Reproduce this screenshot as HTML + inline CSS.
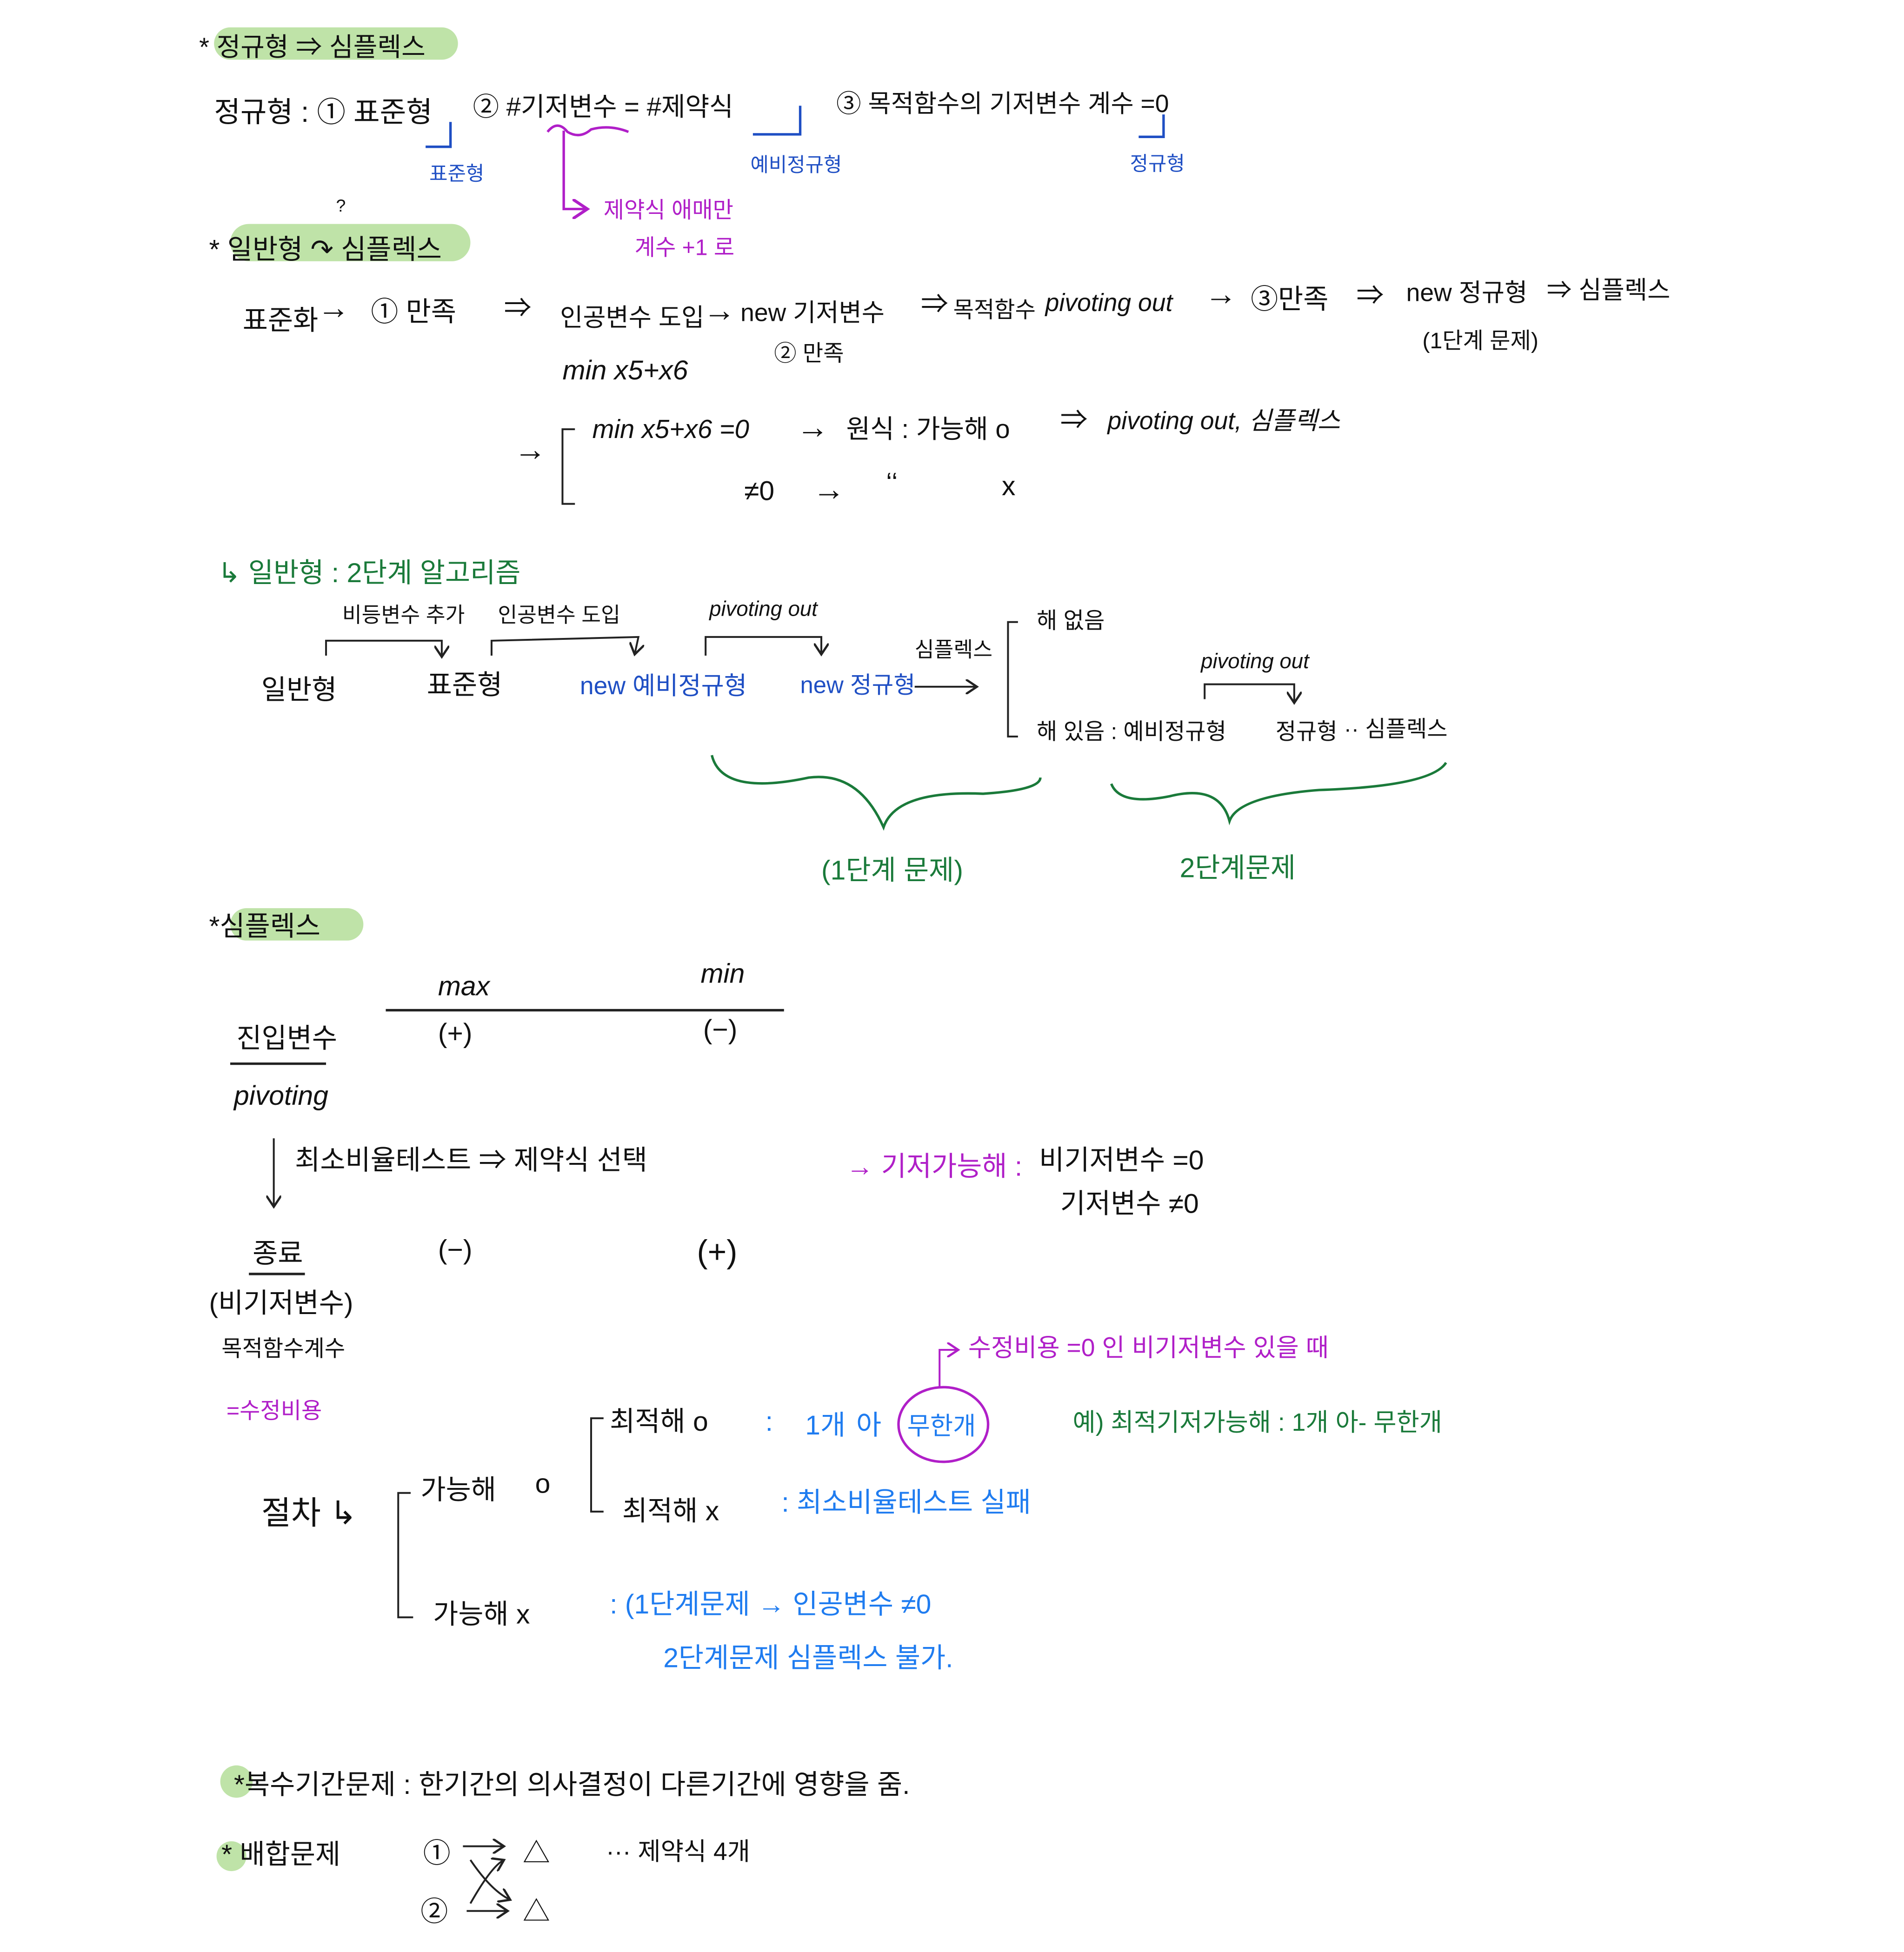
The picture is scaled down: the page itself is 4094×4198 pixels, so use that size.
<!DOCTYPE html>
<html><head><meta charset="utf-8"><style>
html,body{margin:0;padding:0;background:#fff;}
svg{display:block;}
text{font-family:"Liberation Sans","Noto Sans CJK KR",sans-serif;}
</style></head><body>
<svg width="4094" height="4198" viewBox="0 0 1530 1569" preserveAspectRatio="none" xmlns="http://www.w3.org/2000/svg">
<defs>
<marker id="ah" markerWidth="8" markerHeight="8" refX="6" refY="4" orient="auto"><path d="M0,0 L6,4 L0,8" fill="none" stroke="#222" stroke-width="1.2"/></marker>
<marker id="ap" markerWidth="8" markerHeight="8" refX="6" refY="4" orient="auto"><path d="M0,0 L6,4 L0,8" fill="none" stroke="#b01fc8" stroke-width="1.2"/></marker>
</defs>
<g font-size="22" fill="#111">
<!-- Title 1 -->
<rect x="172" y="22" width="196" height="26" rx="13" fill="#bfe3a8"/>
<text x="160" y="45" font-size="21">* 정규형 ⇒ 심플렉스</text>
<text x="172" y="98" font-size="23">정규형 : ① 표준형</text>
<text x="380" y="93" font-size="21">② #기저변수 = #제약식</text>
<text x="672" y="90" font-size="20">③ 목적함수의 기저변수 계수 =0</text>
<g stroke="#1f4fc4" stroke-width="2" fill="none">
<path d="M362,98 L362,118 L342,118"/>
<path d="M643,85 L643,108 L605,108"/>
<path d="M935,92 L935,110 L915,110"/>
</g>
<g fill="#1f4fc4" font-size="16">
<text x="345" y="145">표준형</text>
<text x="603" y="138">예비정규형</text>
<text x="908" y="137">정규형</text>
</g>
<g stroke="#b01fc8" stroke-width="2" fill="none">
<path d="M440,106 Q448,96 456,106 Q466,112 475,104 Q490,100 505,106"/>
<path d="M453,105 L453,168 L472,168" marker-end="url(#ap)"/>
</g>
<g fill="#b01fc8" font-size="18">
<text x="485" y="175">제약식 애매만</text>
<text x="510" y="205">계수 +1 로</text>
</g>
<text x="270" y="170" font-size="14">?</text>

<!-- Title 2 -->
<rect x="185" y="180" width="193" height="30" rx="15" fill="#bfe3a8"/>
<text x="168" y="208">* 일반형 ↷ 심플렉스</text>
<text x="195" y="265">표준화</text>
<text x="255" y="256" font-size="26">→</text>
<text x="298" y="258">① 만족</text>
<text x="405" y="255">⇒</text>
<text x="450" y="262" font-size="20">인공변수 도입</text>
<text x="565" y="258" font-size="26">→</text>
<text x="595" y="258" font-size="20">new 기저변수</text>
<text x="740" y="252">⇒</text>
<text x="766" y="255" font-size="18">목적함수</text>
<text x="840" y="250" font-size="20" font-style="italic">pivoting out</text>
<text x="968" y="245" font-size="26">→</text>
<text x="1005" y="248">③만족</text>
<text x="1090" y="245">⇒</text>
<text x="1130" y="242" font-size="20">new 정규형</text>
<text x="1243" y="240" font-size="20">⇒ 심플렉스</text>
<text x="1143" y="280" font-size="18">(1단계 문제)</text>
<text x="622" y="290" font-size="18">② 만족</text>
<text x="452" y="305" font-style="italic">min   x5+x6</text>
<text x="413" y="370" font-size="26">→</text>
<path d="M462,345 L452,345 L452,405 L462,405" stroke="#222" stroke-width="1.5" fill="none"/>
<text x="476" y="352" font-style="italic" font-size="21">min   x5+x6 =0</text>
<text x="640" y="352" font-size="26">→</text>
<text x="680" y="352" font-size="21">원식 : 가능해 o</text>
<text x="852" y="345">⇒</text>
<text x="890" y="345" font-size="20" font-style="italic">pivoting out, 심플렉스</text>
<text x="598" y="402">≠0</text>
<text x="653" y="402" font-size="26">→</text>
<text x="712" y="395">‘‘</text>
<text x="805" y="398">x</text>

<!-- two-phase -->
<g fill="#1a7a3a"><text x="175" y="468" font-size="22">↳ 일반형 : 2단계 알고리즘</text></g>
<g font-size="17">
<text x="275" y="500">비등변수 추가</text>
<text x="400" y="500">인공변수 도입</text>
<text x="570" y="495" font-style="italic">pivoting out</text>
</g>
<g stroke="#222" stroke-width="1.5" fill="none">
<path d="M262,527 L262,515 L355,515 L355,528" marker-end="url(#ah)"/>
<path d="M395,527 L395,515 L513,512 L510,526" marker-end="url(#ah)"/>
<path d="M567,527 L567,512 L660,512 L660,526" marker-end="url(#ah)"/>
<path d="M735,552 L785,552" marker-end="url(#ah)"/>
<path d="M818,500 L810,500 L810,592 L818,592"/>
<path d="M968,562 L968,550 L1040,550 L1040,565" marker-end="url(#ah)"/>
</g>
<text x="210" y="562">일반형</text>
<text x="343" y="558">표준형</text>
<text x="466" y="558" font-size="20" fill="#1f4fc4">new 예비정규형</text>
<text x="643" y="557" font-size="19" fill="#1f4fc4">new 정규형</text>
<text x="735" y="528" font-size="17">심플렉스</text>
<text x="833" y="505" font-size="18">해 없음</text>
<text x="833" y="594" font-size="18">해 있음 : 예비정규형</text>
<text x="965" y="537" font-size="17" font-style="italic">pivoting out</text>
<text x="1025" y="594" font-size="18">정규형</text>
<text x="1080" y="592" font-size="18">·· 심플렉스</text>
<g stroke="#1a7a3a" stroke-width="2" fill="none">
<path d="M572,607 Q580,640 650,625 Q690,620 710,665 Q720,635 790,638 Q836,635 836,625"/>
<path d="M893,630 Q900,648 940,640 Q980,630 988,660 Q995,640 1060,635 Q1150,632 1162,613"/>
</g>
<g fill="#1a7a3a">
<text x="660" y="707">(1단계 문제)</text>
<text x="948" y="705">2단계문제</text>
</g>

<!-- Title 3 -->
<rect x="185" y="730" width="107" height="26" rx="13" fill="#bfe3a8"/>
<text x="168" y="752">*심플렉스</text>
<text x="352" y="800" font-style="italic">max</text>
<text x="563" y="790" font-style="italic">min</text>
<path d="M310,812 L630,812" stroke="#222" stroke-width="2"/>
<text x="352" y="838">(+)</text>
<text x="565" y="835">(−)</text>
<text x="190" y="842">진입변수</text>
<path d="M185,855 L262,855" stroke="#222" stroke-width="2"/>
<text x="188" y="888" font-style="italic">pivoting</text>
<path d="M220,915 L220,970" stroke="#222" stroke-width="1.5" marker-end="url(#ah)"/>
<text x="237" y="940">최소비율테스트 ⇒ 제약식 선택</text>
<text x="680" y="945" fill="#b01fc8">→ 기저가능해 :</text>
<text x="835" y="940">비기저변수 =0</text>
<text x="852" y="975">기저변수 ≠0</text>
<text x="203" y="1015">종료</text>
<path d="M200,1024 L245,1024" stroke="#222" stroke-width="2"/>
<text x="352" y="1012">(−)</text>
<text x="560" y="1015" font-size="26">(+)</text>
<text x="168" y="1055">(비기저변수)</text>
<text x="178" y="1090" font-size="18">목적함수계수</text>
<text x="182" y="1140" font-size="18" fill="#b01fc8">=수정비용</text>

<path d="M755,1115 L755,1085 L770,1085" stroke="#b01fc8" stroke-width="1.5" fill="none" marker-end="url(#ap)"/>
<text x="778" y="1090" fill="#b01fc8" font-size="20">수정비용 =0 인  비기저변수  있을 때</text>
<ellipse cx="758" cy="1145" rx="36" ry="30" stroke="#b01fc8" stroke-width="2" fill="none"/>
<text x="490" y="1150">최적해 o</text>
<text x="615" y="1150" fill="#1f7cf0">:</text>
<text x="647" y="1153" fill="#1f7cf0">1개</text>
<text x="688" y="1153" fill="#1f7cf0">아</text>
<text x="729" y="1153" fill="#1f7cf0" font-size="20">무한개</text>
<text x="862" y="1150" fill="#1a7a3a" font-size="20">예) 최적기저가능해 : 1개  아- 무한개</text>
<text x="210" y="1225" font-size="26">절차 ↳</text>
<path d="M330,1200 L320,1200 L320,1300 L332,1300" stroke="#222" stroke-width="1.5" fill="none"/>
<text x="338" y="1205">가능해</text>
<text x="430" y="1200">o</text>
<path d="M485,1140 L475,1140 L475,1215 L485,1215" stroke="#222" stroke-width="1.5" fill="none"/>
<text x="500" y="1222">최적해 x</text>
<text x="628" y="1215" fill="#1f7cf0">:  최소비율테스트 실패</text>
<text x="348" y="1305">가능해   x</text>
<text x="490" y="1297" fill="#1f7cf0">:   (1단계문제 → 인공변수 ≠0</text>
<text x="533" y="1340" fill="#1f7cf0">2단계문제  심플렉스 불가.</text>

<!-- bottom -->
<circle cx="190" cy="1432" r="13" fill="#bfe3a8"/>
<text x="188" y="1442">*복수기간문제 :  한기간의 의사결정이  다른기간에 영향을 줌.</text>
<circle cx="186" cy="1492" r="12" fill="#bfe3a8"/>
<text x="178" y="1498">* 배합문제</text>
<text x="340" y="1497">①</text>
<text x="420" y="1497">△</text>
<text x="487" y="1495" font-size="20">··· 제약식 4개</text>
<text x="338" y="1544">②</text>
<text x="420" y="1544">△</text>
<g stroke="#222" stroke-width="1.5" fill="none">
<path d="M372,1484 L405,1484" marker-end="url(#ah)"/>
<path d="M375,1536 L408,1536" marker-end="url(#ah)"/>
<path d="M378,1530 Q395,1500 405,1495" marker-end="url(#ah)"/>
<path d="M378,1495 Q395,1520 410,1527" marker-end="url(#ah)"/>
</g>
</g>
</svg>
</body></html>
